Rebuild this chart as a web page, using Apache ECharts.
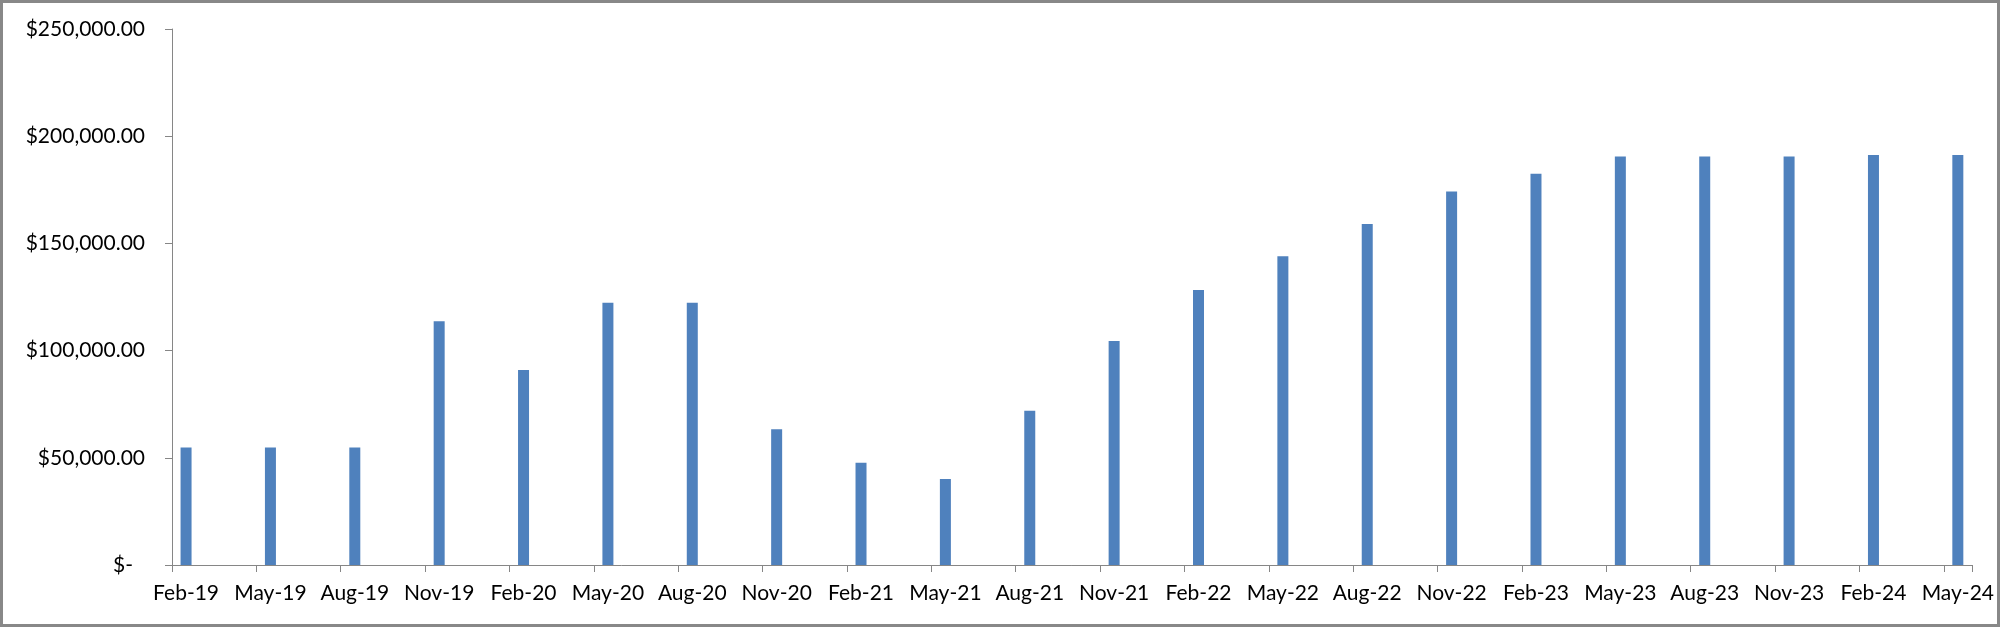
<!DOCTYPE html>
<html>
<head>
<meta charset="utf-8">
<script src="https://cdn.jsdelivr.net/npm/echarts@6/dist/echarts.min.js"></script>
<style>
  html, body { margin: 0; padding: 0; background: #fff; }
  #chart { width: 2000px; height: 627px; box-sizing: border-box; border: 3px solid #888888; }
</style>
</head>
<body>
<div id="chart"></div>
<script>
// Quarterly bar labels and values (USD)
const quarterLabels = ['Feb-19','May-19','Aug-19','Nov-19','Feb-20','May-20','Aug-20','Nov-20',
  'Feb-21','May-21','Aug-21','Nov-21','Feb-22','May-22','Aug-22','Nov-22',
  'Feb-23','May-23','Aug-23','Nov-23','Feb-24','May-24'];
const values = [54800, 54800, 54800, 113700, 91000, 122300, 122300, 63300,
  47700, 40100, 72000, 104500, 128300, 144000, 159100, 174200,
  182500, 190500, 190500, 190500, 191200, 191200];
// y-axis ticks
const yTicks = [0, 50000, 100000, 150000, 200000, 250000];

// Monthly date axis (Excel-style date axis with month base unit)
const monthNames = ['Jan','Feb','Mar','Apr','May','Jun','Jul','Aug','Sep','Oct','Nov','Dec'];
const months = [];
const monthData = [];
let qi = 0;
for (let y = 2019; y <= 2024; y++) {
  for (let m = 0; m < 12; m++) {
    if (y === 2019 && m < 1) continue;
    if (y === 2024 && m > 4) continue;
    const lab = monthNames[m] + '-' + String(y).slice(2);
    months.push(lab);
    if (qi < quarterLabels.length && quarterLabels[qi] === lab) {
      monthData.push(values[qi]);
      qi++;
    } else {
      monthData.push(null);
    }
  }
}

const FONT = 'Lato';
const chart = echarts.init(document.getElementById('chart'), null, { renderer: 'canvas' });
chart.setOption({
  animation: false,
  backgroundColor: '#ffffff',
  grid: { left: 169, right: 24, top: 26, bottom: 59, containLabel: false },
  xAxis: {
    type: 'category',
    data: months,
    boundaryGap: true,
    axisLine: { show: true, lineStyle: { color: '#868686', width: 1 } },
    axisTick: { show: true, interval: 2, alignWithLabel: false, length: 7, lineStyle: { color: '#868686' } },
    axisLabel: {
      interval: 2, color: '#000000', fontFamily: FONT, fontSize: 21, margin: 18,
      showMinLabel: true, showMaxLabel: true
    },
    splitLine: { show: false }
  },
  yAxis: {
    type: 'value',
    min: yTicks[0],
    max: yTicks[yTicks.length - 1],
    interval: yTicks[1] - yTicks[0],
    axisLine: { show: true, lineStyle: { color: '#868686', width: 1 } },
    axisTick: { show: true, length: 7, lineStyle: { color: '#868686' } },
    splitLine: { show: false },
    axisLabel: {
      color: '#000000', fontFamily: FONT, fontSize: 21, margin: 27,
      formatter: function (v) {
        if (v === 0) return '{z|$-}';
        return '$' + v.toLocaleString('en-US', { minimumFractionDigits: 2, maximumFractionDigits: 2 });
      },
      rich: { z: { color: '#000000', fontFamily: FONT, fontSize: 21, padding: [0, 12, 0, 0] } }
    }
  },
  series: [{
    type: 'bar',
    data: monthData,
    barWidth: 11,
    itemStyle: { color: '#4F81BD' }
  }]
});
</script>
</body>
</html>
